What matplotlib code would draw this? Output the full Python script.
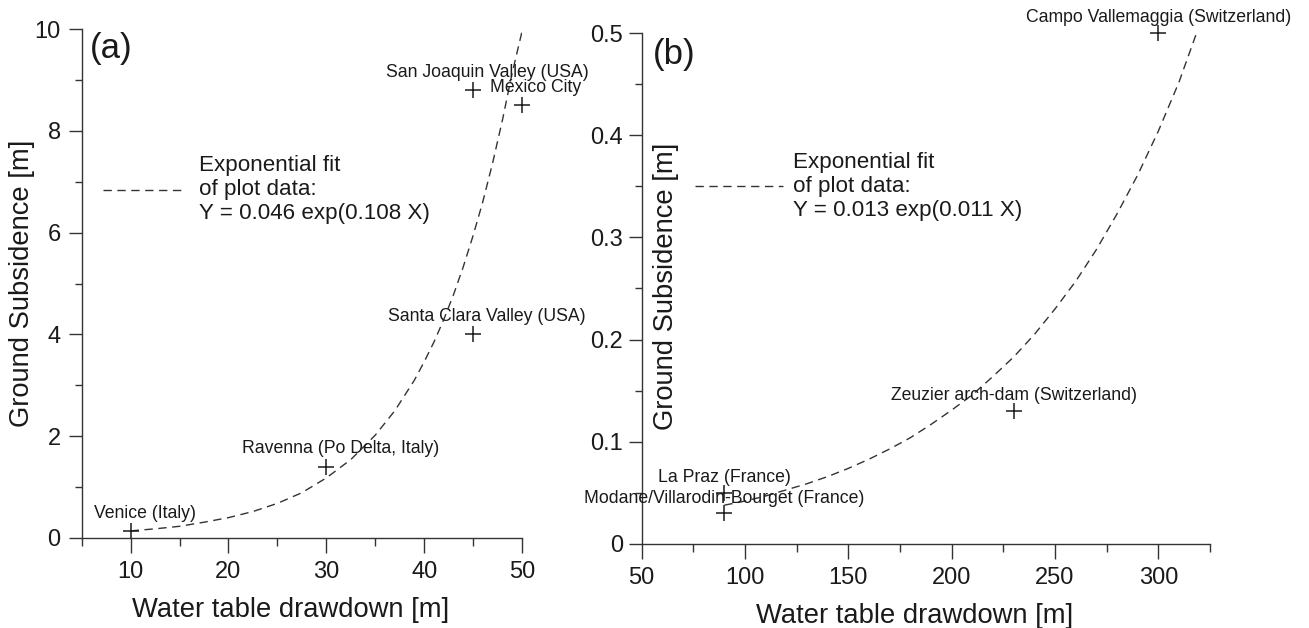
import matplotlib
matplotlib.use("Agg")
import matplotlib.pyplot as plt
from matplotlib.ticker import MultipleLocator, FixedLocator, FixedFormatter
from matplotlib.lines import Line2D

plt.rcParams['font.family'] = ['Liberation Sans', 'DejaVu Sans']

# ---------------- data: panel (a) ----------------
sites_a = ["Venice (Italy)", "Ravenna (Po Delta, Italy)", "Santa Clara Valley (USA)",
           "San Joaquin Valley (USA)", "México City"]
drawdown_a = [10, 30, 45, 45, 50]
subsidence_a = [0.13, 1.4, 4.0, 8.8, 8.5]
fit_x_a = [10, 12.5, 15, 17.5, 20, 22.5, 25, 27.5, 30, 32.5, 35, 37, 39, 40, 41, 42, 43, 44, 45, 46, 47, 48, 49, 50]
fit_y_a = [0.14, 0.18, 0.23, 0.31, 0.40, 0.52, 0.68, 0.89, 1.18, 1.54, 2.02, 2.50, 3.10, 3.46, 3.85, 4.29, 4.78, 5.33, 5.94, 6.61, 7.37, 8.21, 9.14, 9.95]
fit_label_a = "Exponential fit\nof plot data:\nY = 0.046 exp(0.108 X)"
yticks_a = [0, 2, 4, 6, 8, 10]
yticklabels_a = ["0", "2", "4", "6", "8", "10"]
xticks_a = [10, 20, 30, 40, 50]
xticklabels_a = ["10", "20", "30", "40", "50"]

# ---------------- data: panel (b) ----------------
sites_b = ["La Praz (France)", "Modane/Villarodin-Bourget (France)",
           "Zeuzier arch-dam (Switzerland)", "Campo Vallemaggia (Switzerland)"]
drawdown_b = [90, 90, 230, 300]
subsidence_b = [0.05, 0.03, 0.13, 0.5]
fit_x_b = [90, 100, 110, 120, 130, 140, 150, 160, 170, 180, 190, 200, 210, 220, 230, 240,
           250, 260, 270, 280, 290, 300, 310, 318.5]
fit_y_b = [0.038, 0.042, 0.047, 0.053, 0.059, 0.066, 0.074, 0.083, 0.093, 0.104, 0.117,
           0.131, 0.146, 0.164, 0.183, 0.205, 0.230, 0.257, 0.288, 0.323, 0.361, 0.404,
           0.452, 0.50]
fit_label_b = "Exponential fit\nof plot data:\nY = 0.013 exp(0.011 X)"
yticks_b = [0, 0.1, 0.2, 0.3, 0.4, 0.5]
yticklabels_b = ["0", "0.1", "0.2", "0.3", "0.4", "0.5"]
xticks_b = [50, 100, 150, 200, 250, 300]
xticklabels_b = ["50", "100", "150", "200", "250", "300"]

xlabel = "Water table drawdown [m]"
ylabel = "Ground Subsidence [m]"

INK = "#1a1a1a"
W, H = 1309, 628
fig = plt.figure(figsize=(W / 100, H / 100), dpi=100)

ax_a = fig.add_axes([81.7 / W, 1 - 538 / H, (522 - 81.7) / W, (538 - 29) / H])
ax_b = fig.add_axes([641.7 / W, 1 - 544 / H, (1210 - 641.7) / W, (544 - 33) / H])


def style(ax, ypad):
    for s in ("top", "right"):
        ax.spines[s].set_visible(False)
    for s in ("left", "bottom"):
        ax.spines[s].set_linewidth(1.0)
        ax.spines[s].set_color("#333333")
    ax.tick_params(axis="x", which="major", direction="out", length=10.8, width=1.0,
                   color="#333333", labelsize=17, labelcolor=INK, pad=6)
    ax.tick_params(axis="x", which="minor", direction="out", length=5.5, width=1.0, color="#333333")
    ax.tick_params(axis="y", which="major", direction="out", length=9.6, width=1.0,
                   color="#333333", labelsize=17, labelcolor=INK, pad=ypad)
    ax.tick_params(axis="y", which="minor", direction="out", length=5.0, width=1.0, color="#333333")


# ---------------- panel (a) ----------------
ax = ax_a
ax.set_xlim(5, 50)
ax.set_ylim(0, 10)
style(ax, 5.5)
ax.xaxis.set_major_locator(FixedLocator(xticks_a))
ax.xaxis.set_major_formatter(FixedFormatter(xticklabels_a))
ax.xaxis.set_minor_locator(MultipleLocator(10, offset=5))
ax.yaxis.set_major_locator(FixedLocator(yticks_a))
ax.yaxis.set_major_formatter(FixedFormatter(yticklabels_a))
ax.yaxis.set_minor_locator(MultipleLocator(1))

ax.plot(fit_x_a, fit_y_a, color="#333333", lw=1.0, dashes=(6, 4))
ax.plot(drawdown_a, subsidence_a, ls="none", marker="+", ms=12, mew=1.1, color=INK, clip_on=False)
for name, x, y in zip(sites_a, drawdown_a, subsidence_a):
    ax.annotate(name, (x, y), xytext=(10, 13), textcoords="offset points",
                ha="center", va="center", fontsize=12.7, color=INK)

h = Line2D([], [], color="#333333", lw=1.0, dashes=(6, 4))
leg = ax.legend([h], [fit_label_a], loc="center left", bbox_to_anchor=(7.2, 6.85),
                bbox_transform=ax.transData, frameon=False, fontsize=16.1,
                handlelength=3.6, handletextpad=0.7, borderpad=0, borderaxespad=0)
for t in leg.get_texts():
    t.set_linespacing(1.2)
    t.set_color(INK)

ax.text(0.019, 0.961, "(a)", transform=ax.transAxes, fontsize=25, ha="left", va="center", color=INK)
ax.set_xlabel(xlabel, fontsize=19.7, color=INK, va="center")
ax.xaxis.set_label_coords(0.475, -0.1415)
ax.set_ylabel(ylabel, fontsize=19.7, color=INK, ha="center", va="center", rotation_mode="default")
ax.yaxis.set_label_coords(-0.1345, 0.5)

# ---------------- panel (b) ----------------
ax = ax_b
ax.set_xlim(50, 325)
ax.set_ylim(0, 0.5)
style(ax, 4)
ax.xaxis.set_major_locator(FixedLocator(xticks_b))
ax.xaxis.set_major_formatter(FixedFormatter(xticklabels_b))
ax.xaxis.set_minor_locator(MultipleLocator(50, offset=25))
ax.yaxis.set_major_locator(FixedLocator(yticks_b))
ax.yaxis.set_major_formatter(FixedFormatter(yticklabels_b))
ax.yaxis.set_minor_locator(MultipleLocator(0.05))

ax.plot(fit_x_b, fit_y_b, color="#333333", lw=1.0, dashes=(6, 4))
ax.plot(drawdown_b, subsidence_b, ls="none", marker="+", ms=12, mew=1.1, color=INK, clip_on=False)
for name, x, y in zip(sites_b, drawdown_b, subsidence_b):
    ax.annotate(name, (x, y), xytext=(0, 11), textcoords="offset points",
                ha="center", va="center", fontsize=12.7, color=INK, annotation_clip=False)

h = Line2D([], [], color="#333333", lw=1.0, dashes=(6, 4))
leg = ax.legend([h], [fit_label_b], loc="center left", bbox_to_anchor=(76, 0.35),
                bbox_transform=ax.transData, frameon=False, fontsize=16.1,
                handlelength=3.9, handletextpad=0.45, borderpad=0, borderaxespad=0)
for t in leg.get_texts():
    t.set_linespacing(1.2)
    t.set_color(INK)

ax.text(0.019, 0.957, "(b)", transform=ax.transAxes, fontsize=25, ha="left", va="center", color=INK)
ax.set_xlabel(xlabel, fontsize=19.7, color=INK, va="center")
ax.xaxis.set_label_coords(0.48, -0.141)
ax.set_ylabel(ylabel, fontsize=19.7, color=INK, ha="center", va="center", rotation_mode="default")
ax.yaxis.set_label_coords(0.043, 0.504)

fig.savefig("out.png", dpi=100)
